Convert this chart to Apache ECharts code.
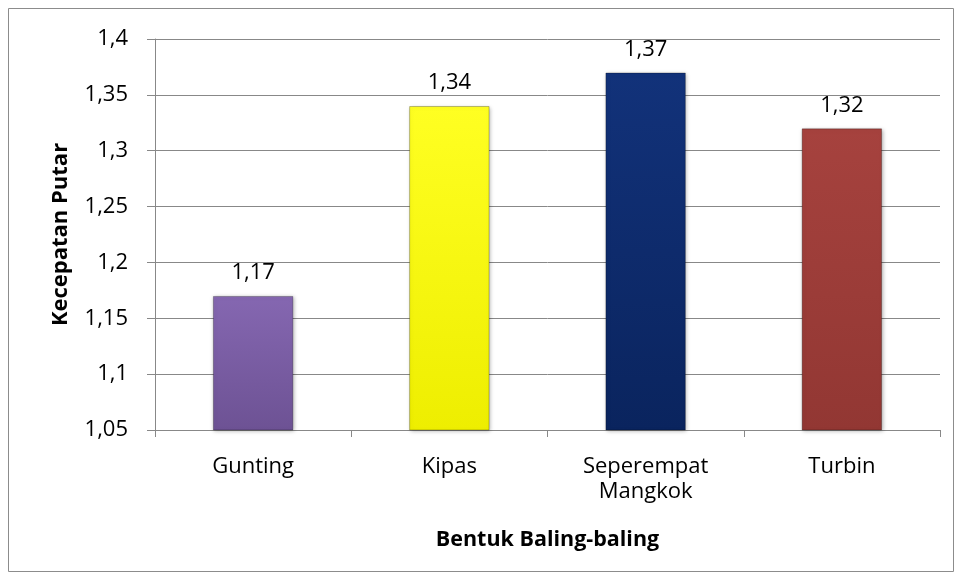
<!DOCTYPE html>
<html><head><meta charset="utf-8">
<script src="https://cdn.jsdelivr.net/npm/echarts@6/dist/echarts.min.js"></script>
<style>html,body{margin:0;padding:0;background:#fff}#c{width:960px;height:576px}</style>
</head><body><div id="c"></div>
<script>
const categories = ['Gunting', 'Kipas', 'Seperempat\nMangkok', 'Turbin'];
const values = [1.17, 1.34, 1.37, 1.32];
const barColors = [['#8567B1', '#6D5294'], ['#FFFF22', '#EEEE00'], ['#12327A', '#0A245E'], ['#A6423E', '#923733']];
const yTicks = { min: 1.05, max: 1.4, interval: 0.05 };
const fmt = v => String(Math.round(v * 100) / 100).replace('.', ',');
const FONT = '"Open Sans", sans-serif';
const chart = echarts.init(document.getElementById('c'));
chart.setOption({
  animation: false,
  grid: { left: 155, right: 20, top: 39, bottom: 146 },
  graphic: [{ type: 'rect', shape: { x: 8.5, y: 8.5, width: 945, height: 563 }, style: { fill: 'none', stroke: '#8c8c8c', lineWidth: 1 }, z: -1 }],
  xAxis: {
    type: 'category', data: categories,
    name: 'Bentuk Baling-baling', nameLocation: 'middle', nameGap: 99,
    nameTextStyle: { fontFamily: FONT, fontWeight: 'bold', fontSize: 21.5, color: '#000' },
    axisLine: { lineStyle: { color: '#888' } },
    axisTick: { show: true, length: 7, lineStyle: { color: '#888' } },
    axisLabel: { fontFamily: FONT, fontSize: 22, color: '#000', margin: 24, lineHeight: 25 }
  },
  yAxis: {
    type: 'value', min: yTicks.min, max: yTicks.max, interval: yTicks.interval,
    name: 'Kecepatan Putar', nameLocation: 'middle', nameGap: 83,
    nameTextStyle: { fontFamily: FONT, fontWeight: 'bold', fontSize: 22, color: '#000' },
    axisLine: { show: true, lineStyle: { color: '#888' } },
    axisTick: { show: true, length: 8, lineStyle: { color: '#888' } },
    splitLine: { lineStyle: { color: '#888' } },
    axisLabel: { fontFamily: FONT, fontSize: 22, color: '#000', margin: 27, formatter: fmt }
  },
  series: [{
    type: 'bar', barWidth: '41%',
    data: values.map((v, i) => ({
      value: v,
      itemStyle: {
        color: { type: 'linear', x: 0, y: 0, x2: 0, y2: 1, colorStops: [{ offset: 0, color: barColors[i][0] }, { offset: 1, color: barColors[i][1] }] },
        borderColor: 'rgba(0,0,0,0.25)', borderWidth: 1,
        shadowColor: 'rgba(0,0,0,0.3)', shadowBlur: 4, shadowOffsetX: 1, shadowOffsetY: 1
      }
    })),
    label: { show: true, position: 'top', distance: 12, fontFamily: FONT, fontSize: 22, color: '#000', formatter: p => fmt(p.value) }
  }]
});
</script></body></html>
